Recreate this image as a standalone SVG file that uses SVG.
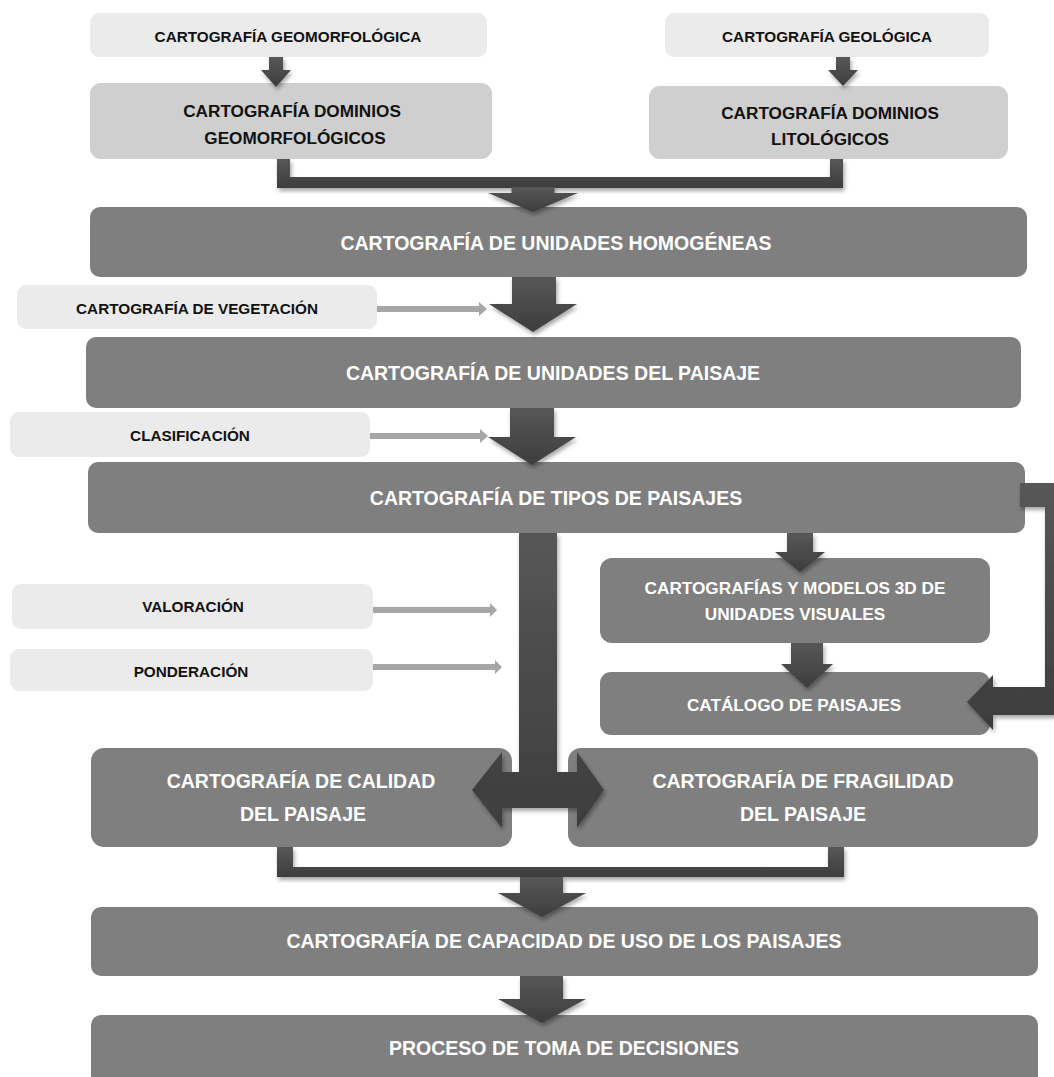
<svg xmlns="http://www.w3.org/2000/svg" width="1054" height="1077" viewBox="0 0 1054 1077">
<style>
.light{fill:#ebebeb}
.mid{fill:#cfcfcf}
.dark{fill:#7f7f7f}
.t{font-family:"Liberation Sans",Arial,sans-serif;font-weight:bold;text-anchor:middle}
.tl{font-size:15.3px;fill:#111}
.tm{font-size:17.2px;fill:#111}
.td{font-size:19.5px;fill:#fff}
.ts{font-size:17.2px;fill:#fff}
.arr{fill:url(#ag);filter:url(#sh)}
.la{fill:#a6a6a6}
</style>
<defs>
<linearGradient id="ag" x1="0" y1="0" x2="0" y2="1">
<stop offset="0" stop-color="#575757"/>
<stop offset="1" stop-color="#3d3d3d"/>
</linearGradient>
<filter id="sh" x="-20%" y="-20%" width="140%" height="140%">
<feDropShadow dx="1.5" dy="3" stdDeviation="2" flood-color="#000" flood-opacity="0.35"/>
</filter>
</defs>
<rect width="1054" height="1077" fill="#fff"/>

<g id="n-geomorfologica"><rect class="light" x="90" y="13" width="397" height="44" rx="9"/><text class="t tl" x="288" y="42">CARTOGRAFÍA GEOMORFOLÓGICA</text></g>
<g id="n-geologica"><rect class="light" x="665" y="13" width="324" height="44" rx="9"/><text class="t tl" x="827" y="42">CARTOGRAFÍA GEOLÓGICA</text></g>
<g id="n-dom-geomorf"><rect class="mid" x="90" y="83" width="402" height="76" rx="11"/><text class="t tm" x="292" y="117">CARTOGRAFÍA DOMINIOS</text><text class="t tm" x="295" y="144">GEOMORFOLÓGICOS</text></g>
<g id="n-dom-lito"><rect class="mid" x="649" y="86" width="359" height="73" rx="11"/><text class="t tm" x="830" y="119">CARTOGRAFÍA DOMINIOS</text><text class="t tm" x="830" y="145">LITOLÓGICOS</text></g>
<g id="n-homogeneas"><rect class="dark" x="90" y="207" width="937" height="70" rx="10"/><text class="t td" x="556" y="250">CARTOGRAFÍA DE UNIDADES HOMOGÉNEAS</text></g>
<g id="n-vegetacion"><rect class="light" x="17" y="285" width="360" height="44" rx="9"/><text class="t tl" x="197" y="314">CARTOGRAFÍA DE VEGETACIÓN</text></g>
<g id="n-unidades-paisaje"><rect class="dark" x="86" y="337" width="935" height="71" rx="10"/><text class="t td" x="553" y="380">CARTOGRAFÍA DE UNIDADES DEL PAISAJE</text></g>
<g id="n-clasificacion"><rect class="light" x="10" y="412" width="360" height="45" rx="9"/><text class="t tl" x="190" y="441">CLASIFICACIÓN</text></g>
<g id="n-tipos"><rect class="dark" x="88" y="462" width="937" height="71" rx="10"/><text class="t td" x="556" y="505">CARTOGRAFÍA DE TIPOS DE PAISAJES</text></g>
<g id="n-modelos3d"><rect class="dark" x="600" y="558" width="390" height="85" rx="12"/><text class="t ts" x="795" y="594">CARTOGRAFÍAS Y MODELOS 3D DE</text><text class="t ts" x="795" y="620">UNIDADES VISUALES</text></g>
<g id="n-catalogo"><rect class="dark" x="600" y="672" width="390" height="63" rx="11"/><text class="t ts" x="794" y="711">CATÁLOGO DE PAISAJES</text></g>
<g id="n-valoracion"><rect class="light" x="12" y="584" width="361" height="45" rx="9"/><text class="t tl" x="193" y="612">VALORACIÓN</text></g>
<g id="n-ponderacion"><rect class="light" x="10" y="649" width="363" height="42" rx="9"/><text class="t tl" x="191" y="677">PONDERACIÓN</text></g>
<g id="n-calidad"><rect class="dark" x="91" y="748" width="421" height="99" rx="13"/><text class="t td" x="301" y="788">CARTOGRAFÍA DE CALIDAD</text><text class="t td" x="303" y="821">DEL PAISAJE</text></g>
<g id="n-fragilidad"><rect class="dark" x="568" y="748" width="470" height="99" rx="13"/><text class="t td" x="803" y="788">CARTOGRAFÍA DE FRAGILIDAD</text><text class="t td" x="803" y="821">DEL PAISAJE</text></g>
<g id="n-capacidad"><rect class="dark" x="91" y="907" width="947" height="69" rx="10"/><text class="t td" x="564" y="948">CARTOGRAFÍA DE CAPACIDAD DE USO DE LOS PAISAJES</text></g>
<g id="n-decisiones"><rect class="dark" x="91" y="1015" width="947" height="80" rx="10"/><text class="t td" x="564" y="1055">PROCESO DE TOMA DE DECISIONES</text></g>

<g id="connectors">
<path class="arr" d="M269,57 L283,57 L283,70 L291,70 L276,87 L261,70 L269,70 Z"/>
<path class="arr" d="M836,57 L850,57 L850,70 L858,70 L843,86 L828,70 L836,70 Z"/>
<path class="arr" d="M277,159 L290,159 L290,177 L830,177 L830,159 L843,159 L843,188 L277,188 Z"/>
<path class="arr" d="M511.5,187 L554.5,187 L554.5,193 L578,193 L533,212 L488,193 L511.5,193 Z"/>
<path class="arr" d="M512,277 L556,277 L556,304 L577,304 L533,332 L489,304 L512,304 Z"/>
<path class="arr" d="M510,408 L554,408 L554,437 L576,437 L532,465 L488,437 L510,437 Z"/>
<path class="arr" d="M519,533 L557,533 L557,772 L577,772 L577,752 L604,790 L577,828 L577,808 L502,808 L502,828 L472,790 L502,752 L502,772 L519,772 Z"/>
<path class="arr" d="M787,533 L813,533 L813,552 L825,552 L800,572 L775,552 L787,552 Z"/>
<path class="arr" d="M791,643 L823,643 L823,664 L833,664 L807,688 L781,664 L791,664 Z"/>
<path class="arr" d="M1020,483 L1060,483 L1060,715 L993,715 L993,730 L967,702 L993,675 L993,687 L1045,687 L1045,507 L1020,507 Z"/>
<path class="arr" d="M277,847 L293,847 L293,867 L828,867 L828,847 L844,847 L844,877 L277,877 Z"/>
<path class="arr" d="M520,877 L563,877 L563,893 L586,893 L542,917 L498,893 L520,893 Z"/>
<path class="arr" d="M520,976 L563,976 L563,999 L586,999 L542,1023 L498,999 L520,999 Z"/>
<path class="la" d="M377,306 L479,306 L479,302 L487,309 L479,316 L479,312 L377,312 Z"/>
<path class="la" d="M370,433 L480,433 L480,429 L488,436 L480,443 L480,439 L370,439 Z"/>
<path class="la" d="M373,607 L490,607 L490,603 L497,610 L490,617 L490,613 L373,613 Z"/>
<path class="la" d="M373,664 L495,664 L495,660 L502,667 L495,674 L495,670 L373,670 Z"/>
</g>
</svg>
